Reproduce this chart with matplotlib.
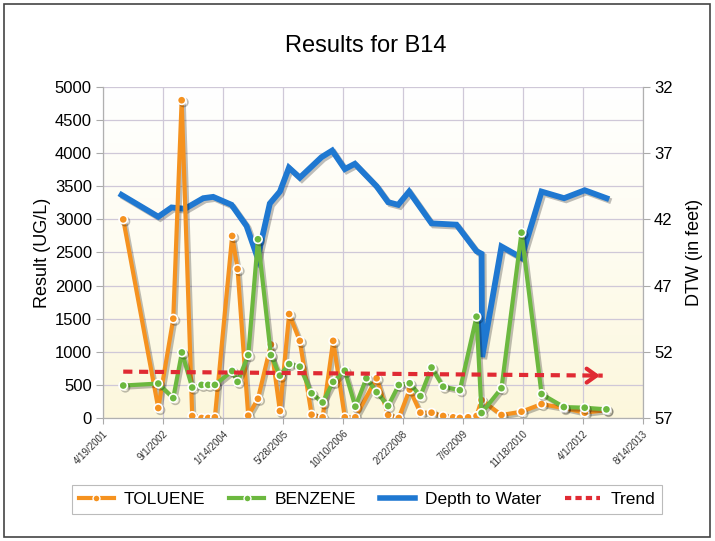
import numpy as np
import pandas as pd
import matplotlib
matplotlib.use("Agg")
import matplotlib.pyplot as plt
import matplotlib.patheffects as pe
from matplotlib.lines import Line2D
from matplotlib.patches import Rectangle

plt.rcParams['font.family'] = ['Liberation Sans', 'DejaVu Sans']

# --- data ---
tol_dates = ["2001-10-05", "2002-07-24", "2002-11-26", "2003-02-04", "2003-05-03",
             "2003-07-20", "2003-09-13", "2003-11-08", "2004-03-31", "2004-05-15",
             "2004-08-12", "2004-11-01", "2005-02-17", "2005-05-03", "2005-07-19",
             "2005-10-16", "2006-01-22", "2006-04-24", "2006-07-21", "2006-10-26",
             "2007-01-22", "2007-07-18", "2007-10-22", "2008-01-19", "2008-04-19",
             "2008-07-17", "2008-10-18", "2009-01-23", "2009-04-16", "2009-06-11",
             "2009-08-19", "2009-10-28", "2009-12-09", "2010-05-24", "2010-11-07",
             "2011-04-23", "2011-10-26", "2012-04-17", "2012-10-15"]
toluene = [3000, 150, 1500, 4800, 30, 0, 0, 10, 2750, 2250,
           35, 290, 1110, 105, 1570, 1165, 50, 10, 1165, 10,
           10, 600, 45, 0, 430, 80, 80, 30, 10, 0,
           10, 30, 270, 45, 95, 210, 150, 80, 120]

ben_dates = ["2001-10-05", "2002-07-24", "2002-11-26", "2003-02-06", "2003-05-03",
             "2003-07-20", "2003-09-13", "2003-11-08", "2004-03-31", "2004-05-15",
             "2004-08-12", "2004-11-01", "2005-02-17", "2005-05-03", "2005-07-19",
             "2005-10-16", "2006-01-22", "2006-04-24", "2006-07-21", "2006-10-26",
             "2007-01-22", "2007-04-24", "2007-07-18", "2007-10-22", "2008-01-19",
             "2008-04-19", "2008-07-17", "2008-10-18", "2009-01-23", "2009-06-11",
             "2009-10-28", "2009-12-09", "2010-05-24", "2010-11-07", "2011-04-23",
             "2011-10-26", "2012-04-17", "2012-10-15"]
benzene = [490, 520, 300, 990, 460, 500, 500, 500, 710, 545,
           950, 2700, 950, 640, 815, 775, 373, 234, 545, 714,
           171, 600, 390, 181, 498, 524, 330, 762, 473, 420,
           1530, 75, 450, 2800, 362, 165, 155, 130]

dtw_dates = ["2001-09-21", "2002-07-24", "2002-11-12", "2003-03-03", "2003-08-03",
             "2003-10-25", "2004-03-26", "2004-07-29", "2004-10-29", "2005-02-08",
             "2005-05-03", "2005-07-17", "2005-10-16", "2006-04-15", "2006-07-13",
             "2006-10-26", "2007-01-18", "2007-07-18", "2007-10-22", "2008-01-14",
             "2008-04-14", "2008-10-18", "2009-05-14", "2009-10-28", "2009-12-09",
             "2009-12-14", "2010-05-24", "2010-11-07", "2011-04-23", "2011-10-28",
             "2012-04-17", "2012-10-15"]
dtw = [40.15, 41.8, 41.1, 41.2, 40.4, 40.3, 40.9, 42.5, 44.9, 40.8,
       39.9, 38.1, 38.85, 37.3, 36.8, 38.2, 37.8, 39.5, 40.7, 40.9,
       39.9, 42.3, 42.4, 44.4, 44.6, 52.4, 44.05, 44.9, 39.9, 40.4,
       39.8, 40.4]

trend_dates = ["2001-10-05", "2012-09-14"]
trend = [700, 640]

tick_start = "2001-04-19"
tick_end = "2013-08-14"

ORANGE = "#f5921f"
GREEN = "#6cb83f"
BLUE = "#1f78d1"
RED = "#e02a33"

tol_d = pd.to_datetime(tol_dates)
ben_d = pd.to_datetime(ben_dates)
dtw_d = pd.to_datetime(dtw_dates)
tr_d = pd.to_datetime(trend_dates)
xticks = pd.date_range(tick_start, tick_end, freq="500D")

shadow = [pe.SimpleLineShadow(offset=(1.5, -1.5), alpha=0.25), pe.Normal()]

fig = plt.figure(figsize=(7.15, 5.41), dpi=100, facecolor="white")
ax2 = fig.add_axes([0.144, 0.2274, 0.755, 0.6118])
ax = ax2.twinx()
ax.set_zorder(ax2.get_zorder() + 1)
ax.patch.set_visible(False)

# pale yellow background fading toward the top
grad = np.linspace(0, 1, 256).reshape(-1, 1)
cmap = matplotlib.colors.LinearSegmentedColormap.from_list("bg", ["#fcf7dc", "#fefcf0", "#ffffff"])
ax2.imshow(grad, extent=[0, 1, 0, 1], transform=ax2.transAxes, cmap=cmap,
           aspect="auto", origin="lower", zorder=0)

# right axis (depth to water), drawn underneath
ax2.plot(dtw_d, dtw, color=BLUE, lw=4.2, solid_joinstyle="miter", zorder=3,
         path_effects=shadow)
ax2.set_ylim(57, 32)
ax2.set_yticks(np.arange(32, 58, 5))
ax2.set_yticks(np.arange(34.5, 57, 5), minor=True)
ax2.yaxis.tick_right()
ax2.yaxis.set_label_position("right")
ax2.set_ylabel("DTW (in feet)", fontsize=13, labelpad=10)
ax2.grid(True, which="both", axis="y", color="#cfc8d8", lw=0.9)
ax2.grid(True, which="major", axis="x", color="#cfc8d8", lw=0.9)
ax2.tick_params(axis="y", which="major", labelsize=12, direction="out", length=5,
                color="#aaaaaa", pad=3)
ax2.tick_params(axis="y", which="minor", length=0)

# left axis (results)
ax.plot(tol_d, toluene, color=ORANGE, lw=3, marker="o", ms=6, mfc=ORANGE,
        mec="white", mew=1.2, zorder=4, path_effects=shadow)
ax.plot(ben_d, benzene, color=GREEN, lw=3, marker="o", ms=6, mfc=GREEN,
        mec="white", mew=1.2, zorder=5, path_effects=shadow)
ax.plot(tr_d, trend, color=RED, lw=3, ls=(0, (2.2, 1.6)), zorder=6)
ax.annotate("", xy=(tr_d[-1], trend[-1]), xytext=(tr_d[-1] - pd.Timedelta(days=120), trend[-1]),
            arrowprops=dict(arrowstyle="->,head_length=0.7,head_width=0.5", color=RED, lw=3),
            zorder=6)
ax.set_ylim(0, 5000)
ax.set_yticks(np.arange(0, 5001, 500))
ax.yaxis.tick_left()
ax.yaxis.set_label_position("left")
ax.set_ylabel("Result (UG/L)", fontsize=13, labelpad=3)
ax.tick_params(axis="y", labelsize=12, direction="out", length=5, color="#aaaaaa", pad=3)

ax2.set_xlim(pd.Timestamp(tick_start), pd.Timestamp(tick_end))
ax2.set_xticks(xticks)
ax2.set_xticklabels([f"{d.month}/{d.day}/{d.year}" for d in xticks], rotation=45,
                    ha="right", rotation_mode="anchor", fontsize=7, color="#333333")
ax2.tick_params(axis="x", direction="out", length=4, color="#aaaaaa")

for a in (ax, ax2):
    a.spines["top"].set_visible(False)
    for s in ("left", "right", "bottom"):
        a.spines[s].set_color("#b0b0b0")

fig.text(0.511, 0.915, "Results for B14", ha="center", va="center", fontsize=17)

handles = [
    Line2D([], [], color=ORANGE, lw=3, marker="o", ms=5, mfc=ORANGE, mec="white", mew=1),
    Line2D([], [], color=GREEN, lw=3, marker="o", ms=5, mfc=GREEN, mec="white", mew=1),
    Line2D([], [], color=BLUE, lw=4),
    Line2D([], [], color=RED, lw=3, ls=(0, (1.5, 1))),
]
leg = fig.legend(handles, ["TOLUENE", "BENZENE", "Depth to Water", "Trend"],
                 loc="center", bbox_to_anchor=(0.1007, 0.0444, 0.825, 0.0647), mode="expand",
                 ncol=4, fontsize=12.5, frameon=True, fancybox=False, edgecolor="#aaaaaa",
                 handlelength=2.0, handletextpad=0.6, borderaxespad=0)
leg.get_frame().set_linewidth(0.8)

fig.patches.append(Rectangle((0.005, 0.008), 0.988, 0.985, transform=fig.transFigure,
                             fill=False, edgecolor="#444444", lw=1.2))

fig.savefig("out.png", dpi=100)
